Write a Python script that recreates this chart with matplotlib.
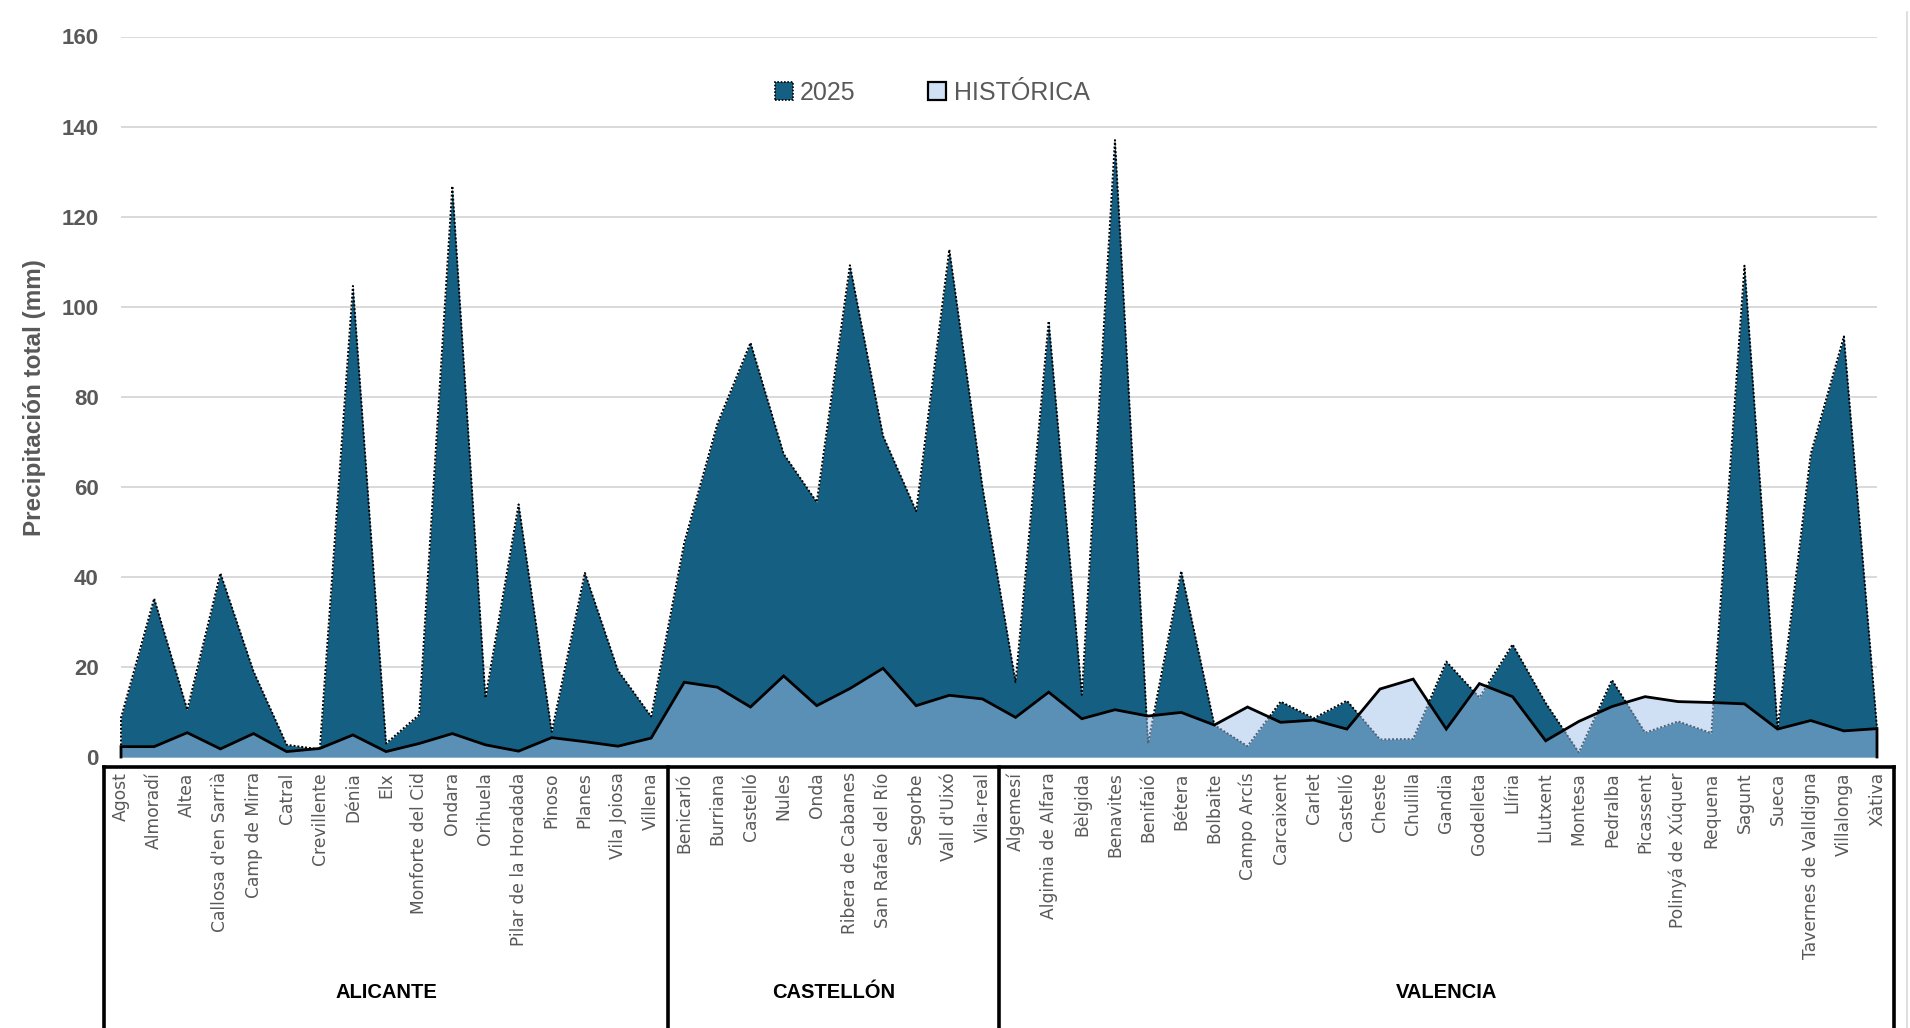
import matplotlib
matplotlib.use("Agg")
import matplotlib.pyplot as plt
import matplotlib.transforms as mtransforms
from matplotlib.patches import Patch
from matplotlib.lines import Line2D
import numpy as np

# ---------------- data ----------------
alicante = ["Agost", "Almoradí", "Altea", "Callosa d'en Sarrià", "Camp de Mirra", "Catral",
            "Crevillente", "Dénia", "Elx", "Monforte del Cid", "Ondara", "Orihuela",
            "Pilar de la Horadada", "Pinoso", "Planes", "Vila Joiosa", "Villena"]
v2025_ali = [8.7, 35.2, 10.5, 40.8, 19.0, 2.7, 1.7, 104.6, 3.0, 9.4, 126.8, 13.1,
             56.1, 5.6, 40.9, 19.2, 9.0]
hist_ali = [2.3, 2.3, 5.4, 1.8, 5.2, 1.2, 1.9, 4.9, 1.2, 3.0, 5.2, 2.7,
            1.3, 4.3, 3.4, 2.4, 4.2]

castellon = ["Benicarló", "Burriana", "Castelló", "Nules", "Onda", "Ribera de Cabanes",
             "San Rafael del Río", "Segorbe", "Vall d'Uixó", "Vila-real"]
v2025_cas = [47.6, 74.0, 92.0, 67.3, 56.6, 109.2, 71.3, 54.6, 112.7, 60.0]
hist_cas = [16.6, 15.5, 11.1, 18.0, 11.4, 15.2, 19.7, 11.4, 13.7, 12.9]

valencia = ["Algemesí", "Algimia de Alfara", "Bèlgida", "Benavites", "Benifaió", "Bétera",
            "Bolbaite", "Campo Arcís", "Carcaixent", "Carlet", "Castelló", "Cheste",
            "Chulilla", "Gandia", "Godelleta", "Llíria", "Llutxent", "Montesa", "Pedralba",
            "Picassent", "Polinyá de Xúquer", "Requena", "Sagunt", "Sueca",
            "Tavernes de Valldigna", "Villalonga", "Xàtiva"]
v2025_val = [16.6, 96.8, 13.8, 137.0, 3.0, 41.3, 7.1, 2.4, 12.3, 8.6, 12.5, 3.9,
             4.0, 21.2, 13.2, 25.0, 12.0, 1.0, 17.1, 5.4, 7.9, 5.3, 109.1, 6.4,
             67.3, 93.4, 6.4]
hist_val = [8.8, 14.4, 8.5, 10.5, 9.1, 9.9, 7.1, 11.1, 7.7, 8.2, 6.2, 15.1,
            17.3, 6.2, 16.3, 13.4, 3.6, 7.9, 11.2, 13.4, 12.3, 12.1, 11.8, 6.2,
            8.1, 5.8, 6.3]

groups = ["ALICANTE", "CASTELLÓN", "VALENCIA"]
series_names = ["2025", "HISTÓRICA"]
y_ticks = [0, 20, 40, 60, 80, 100, 120, 140, 160]

# ---------------- styling ----------------
DARK = "#156082"
LIGHT = "#A1C1EB"
LIGHT_LEGEND = "#D0E0F5"
GRAY = "#595959"

categories = alicante + castellon + valencia
v2025 = np.array(v2025_ali + v2025_cas + v2025_val)
hist = np.array(hist_ali + hist_cas + hist_val)
n = len(categories)
x = np.arange(n)
group_sizes = [len(alicante), len(castellon), len(valencia)]

W, H = 1910, 1028
fig = plt.figure(figsize=(W / 100, H / 100), dpi=100)
fig.patch.set_facecolor("white")
ax = fig.add_axes([121 / W, 1 - 757 / H, 1756 / W, 720.5 / H])
ax.set_xlim(0, n - 1)
ax.set_ylim(0, 160)
ax.set_yticks(y_ticks)
ax.grid(axis="y", color="#D9D9D9", lw=1.4)
ax.set_axisbelow(True)
for s in ax.spines.values():
    s.set_visible(False)

# 2025 area with dotted outline
ax.fill_between(x, 0, v2025, color=DARK, lw=0, zorder=2)
ax.plot(np.r_[0, x, n - 1], np.r_[0, v2025, 0], color="black", ls=(0, (1, 1)),
        lw=1.4, zorder=3, clip_on=False)
# historical area, semi-transparent, solid outline
ax.fill_between(x, 0, hist, color=LIGHT, alpha=0.5, lw=0, zorder=4)
ax.plot(np.r_[0, x, n - 1], np.r_[0, hist, 0], color="black", lw=2.0,
        zorder=5, clip_on=False, solid_joinstyle="miter")

# ticks
ax.tick_params(axis="y", length=0, pad=16, labelsize=16, labelcolor=GRAY)
for lbl in ax.get_yticklabels():
    lbl.set_fontweight("bold")
    lbl.set_family("Liberation Sans")
ax.set_xticks(x)
ax.set_xticklabels(categories, rotation=90, fontsize=12.3, color=GRAY, family="DejaVu Sans")
ax.tick_params(axis="x", length=0, pad=11)

# y label
fig.text(34 / W, 1 - 398 / H, "Precipitación total (mm)", rotation=90, ha="center",
         va="center", fontsize=17.5, fontweight="bold", color=GRAY, family="Liberation Sans")

# group boxes
trans = mtransforms.blended_transform_factory(ax.transData, ax.transAxes)
y_top = (757 - 767) / 720.5
y_bot = (757 - 1060) / 720.5
edges = np.cumsum([0] + group_sizes) - 0.5
ax.add_line(Line2D([edges[0], edges[-1]], [y_top, y_top], transform=trans, color="black",
                   lw=2.6, clip_on=False, solid_capstyle="projecting"))
for e in edges:
    ax.add_line(Line2D([e, e], [y_top, y_bot], transform=trans, color="black",
                       lw=2.6, clip_on=False, solid_capstyle="projecting"))
y_grp = (757 - 993) / 720.5
for g, a, b in zip(groups, edges[:-1], edges[1:]):
    ax.text((a + b) / 2, y_grp, g, transform=trans, ha="center", va="center",
            fontsize=14.5, fontweight="bold", color="black", family="Liberation Sans")

# legend
handles = [Patch(facecolor=DARK, edgecolor="black", linestyle=(0, (1, 1)), lw=1.2),
           Patch(facecolor=LIGHT_LEGEND, edgecolor="black", lw=1.6)]
leg = fig.legend(handles, series_names, loc="center", bbox_to_anchor=(932 / W, 1 - 93 / H),
                 ncol=2, frameon=False, handlelength=0.72, handleheight=0.72,
                 handletextpad=0.3, columnspacing=2.9,
                 prop={"family": "Liberation Sans", "size": 18})
for t in leg.get_texts():
    t.set_color(GRAY)

# thin chart border on the right
fig.add_artist(Line2D([1907 / W, 1907 / W], [0, 1 - 12 / H], transform=fig.transFigure,
                      color="#D9D9D9", lw=1.2))

fig.savefig("out.png", dpi=100, facecolor="white")
